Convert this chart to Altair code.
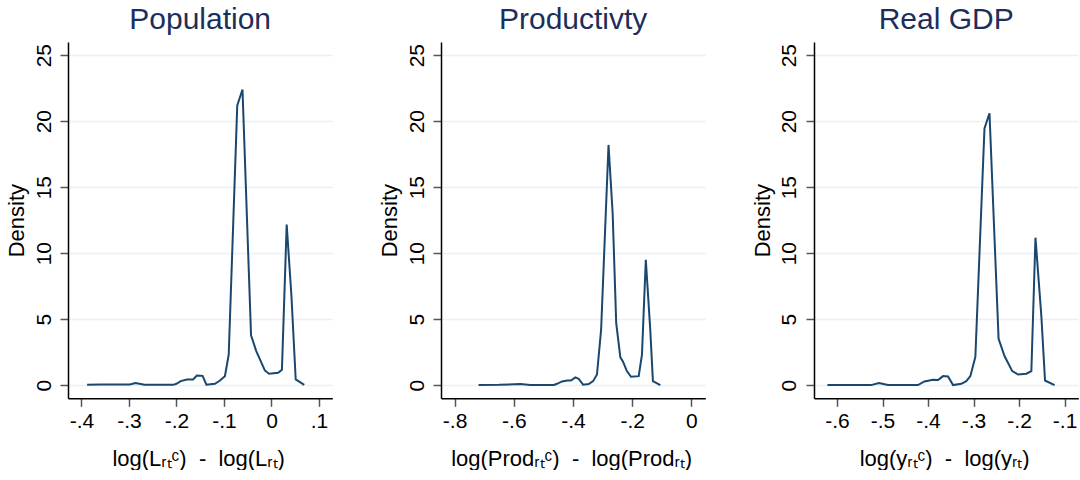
import altair as alt
import pandas as pd

# Kernel density estimates of the log gap, one series per panel
pop_x = [-0.388, -0.36, -0.33, -0.298, -0.286, -0.267, -0.207, -0.2, -0.191, -0.178,
         -0.165, -0.157, -0.145, -0.137, -0.119, -0.109, -0.098, -0.09, -0.072, -0.061,
         -0.043, -0.032, -0.014, -0.005, 0.014, 0.022, 0.032, 0.042, 0.051, 0.069]
pop_y = [0.03, 0.04, 0.04, 0.05, 0.15, 0.02, 0.02, 0.1, 0.3, 0.43,
         0.43, 0.73, 0.7, 0.03, 0.1, 0.33, 0.68, 2.3, 21.2, 22.4,
         3.77, 2.58, 1.11, 0.86, 0.93, 1.16, 12.17, 6.75, 0.43, 0.02]

prod_x = [-0.719, -0.65, -0.578, -0.544, -0.465, -0.454, -0.437, -0.42, -0.407, -0.392,
          -0.381, -0.366, -0.347, -0.332, -0.319, -0.305, -0.28, -0.266, -0.254, -0.24,
          -0.231, -0.218, -0.204, -0.178, -0.167, -0.154, -0.139, -0.13, -0.105]
prod_y = [0.0, 0.02, 0.08, 0.01, 0.01, 0.1, 0.28, 0.35, 0.35, 0.58,
          0.48, 0.03, 0.08, 0.3, 0.8, 4.2, 18.2, 13.0, 4.7, 2.1,
          1.77, 1.06, 0.63, 0.68, 2.3, 9.5, 4.2, 0.3, 0.0]

gdp_x = [-0.621, -0.57, -0.525, -0.508, -0.488, -0.422, -0.408, -0.389, -0.378, -0.367,
         -0.356, -0.345, -0.327, -0.316, -0.307, -0.296, -0.276, -0.265, -0.245, -0.232,
         -0.215, -0.202, -0.184, -0.173, -0.164, -0.151, -0.143, -0.122]
gdp_y = [0.0, 0.01, 0.0, 0.15, 0.0, 0.0, 0.28, 0.4, 0.38, 0.68,
         0.65, 0.0, 0.1, 0.3, 0.68, 2.15, 19.45, 20.6, 3.5, 2.2,
         1.06, 0.8, 0.86, 1.06, 11.17, 5.2, 0.35, 0.0]

SP = "\u00a0\u00a0"  # non-collapsing double space around the minus sign
titles = ["Population", "Productivty", "Real GDP"]
x_titles = [f"log(Lᵣₜᶜ){SP}-{SP}log(Lᵣₜ)",
            f"log(Prodᵣₜᶜ){SP}-{SP}log(Prodᵣₜ)",
            f"log(yᵣₜᶜ){SP}-{SP}log(yᵣₜ)"]
x_domains = [[-0.4282, 0.128], [-0.846, 0.047], [-0.6505, -0.0699]]
x_ticks = [[-0.4, -0.3, -0.2, -0.1, 0.0, 0.1],
           [-0.8, -0.6, -0.4, -0.2, 0.0],
           [-0.6, -0.5, -0.4, -0.3, -0.2, -0.1]]
x_tick_labels = [["-.4", "-.3", "-.2", "-.1", "0", ".1"],
                 ["-.8", "-.6", "-.4", "-.2", "0"],
                 ["-.6", "-.5", "-.4", "-.3", "-.2", "-.1"]]
y_ticks = [0, 5, 10, 15, 20, 25]

FONT = "Liberation Sans"
LINE = "#1a476f"
TITLE = "#1c2e5b"
W, H = 264.3, 356.3


def label_expr(values, labels):
    expr = "''"
    for v, lab in reversed(list(zip(values, labels))):
        expr = f"abs(datum.value - ({v})) < 1e-9 ? '{lab}' : ({expr})"
    return expr


def panel(xs, ys, title, xtitle, dom, ticks, tlabels):
    df = pd.DataFrame({"x": xs, "density": ys})
    return (
        alt.Chart(df)
        .mark_line(color=LINE, strokeWidth=2)
        .encode(
            x=alt.X(
                "x:Q",
                scale=alt.Scale(domain=dom, nice=False, zero=False),
                axis=alt.Axis(
                    values=ticks,
                    labelExpr=label_expr(ticks, tlabels),
                    title=xtitle,
                    grid=False,
                    labelBaseline="alphabetic",
                    labelPadding=21,
                    titleFontSize=22,
                    titleX=W / 2 - 2,
                    titleY=67.7,
                    titleAlign="center",
                    titleBaseline="alphabetic",
                ),
            ),
            y=alt.Y(
                "density:Q",
                scale=alt.Scale(domain=[-1, 26], nice=False, zero=False),
                axis=alt.Axis(
                    values=y_ticks,
                    title="Density",
                    grid=True,
                    labelAngle=270,
                    labelAlign="center",
                    labelBaseline="alphabetic",
                    labelPadding=10,
                    titleAngle=270,
                    titleX=-44.2,
                    titleY=H / 2,
                    titleAlign="center",
                    titleBaseline="alphabetic",
                ),
            ),
        )
        .properties(
            width=W,
            height=H,
            title=alt.TitleParams(
                title,
                fontSize=30,
                font=FONT,
                fontWeight="normal",
                color=TITLE,
                anchor="middle",
                frame="group",
                baseline="alphabetic",
                offset=-17,
            ),
        )
    )


panels = [
    panel(pop_x, pop_y, titles[0], x_titles[0], x_domains[0], x_ticks[0], x_tick_labels[0]),
    panel(prod_x, prod_y, titles[1], x_titles[1], x_domains[1], x_ticks[1], x_tick_labels[1]),
    panel(gdp_x, gdp_y, titles[2], x_titles[2], x_domains[2], x_ticks[2], x_tick_labels[2]),
]

chart = (
    alt.hconcat(*panels, spacing=108, bounds="flush")
    .properties(padding={"left": 5, "top": 5, "right": 0, "bottom": 0}, background="white")
    .configure_view(stroke=None)
    .configure_axis(
        labelFont=FONT,
        titleFont=FONT,
        labelFontSize=21,
        titleFontSize=22,
        labelColor="#000000",
        titleColor="#000000",
        titleFontWeight="normal",
        domainColor="#000000",
        domainWidth=1.5,
        tickColor="#555555",
        tickWidth=1.5,
        tickSize=8,
        gridColor="#eaf0f3",
        gridWidth=1.5,
    )
)

chart.save("out.html", embed_options={"renderer": "svg", "actions": False})
